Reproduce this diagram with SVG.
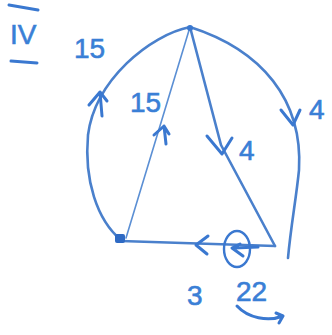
<svg xmlns="http://www.w3.org/2000/svg" width="332" height="335" viewBox="0 0 332 335">
<defs>
<style>
.e{fill:none;stroke:#4a80cc;stroke-width:2.6;stroke-linecap:round;stroke-linejoin:round}
.t{fill:none;stroke:#5b8fd4;stroke-width:1.6;stroke-linecap:round}
.a{fill:none;stroke:#3a78d0;stroke-width:3;stroke-linecap:round;stroke-linejoin:round}
.l{font-family:"Liberation Sans",Arial,sans-serif;fill:#3a7fd6;font-size:28px;stroke:#3a7fd6;stroke-width:0.6}
</style>
</defs>
<rect width="332" height="335" fill="#fff"/>
<g id="connectors">
<path class="e" d="M121,240 C97,220 84,180 88,135 C95,80 150,35 190,27"/>
<path class="a" d="M89,105 L100,92 L107,101 M100,92 L102,116"/>
<path class="t" d="M126,238 L190,27"/>
<path class="a" d="M154,135 L164,126 L169,134 M164,126 L166,144"/>
<path class="e" d="M190,27 L221,145 L275,246"/>
<path class="a" d="M207,136 L222,154 L232,138"/>
<path class="e" d="M190,27 C262,50 303,100 299,170 C296,200 291,225 288,258"/>
<path class="a" d="M281,110 L293,125 L300,110"/>
<path class="e" d="M275,246 L121,241"/>
<path class="a" d="M208,236 L196,245 L207,254"/>
<path class="a" d="M240,244 L232,248 L243,256 M234,248 L258,247"/>
<path class="a" d="M237,306 C248,318 268,322 283,316 M276,313 L283,316 L279,323"/>
</g>
<g id="n-top"><circle cx="190" cy="28" r="3" fill="#3a78d0"/></g>
<g id="n-left"><rect x="115" y="234" width="10" height="9" rx="2" fill="#2e6ac4"/></g>
<g id="n-right"><ellipse cx="237" cy="249" rx="13" ry="18" fill="none" stroke="#3a78d0" stroke-width="2.4"/></g>
<g id="labels">
<path class="a" d="M9,5 L38,10 M11,61 L37,63"/>
<text class="l" x="10" y="44" font-size="31">IV</text>
<text class="l" x="74" y="58">15</text>
<text class="l" x="130" y="112">15</text>
<text class="l" x="239" y="160">4</text>
<text class="l" x="309" y="119">4</text>
<text class="l" x="187" y="305">3</text>
<text class="l" x="236" y="301">22</text>
</g>
</svg>
